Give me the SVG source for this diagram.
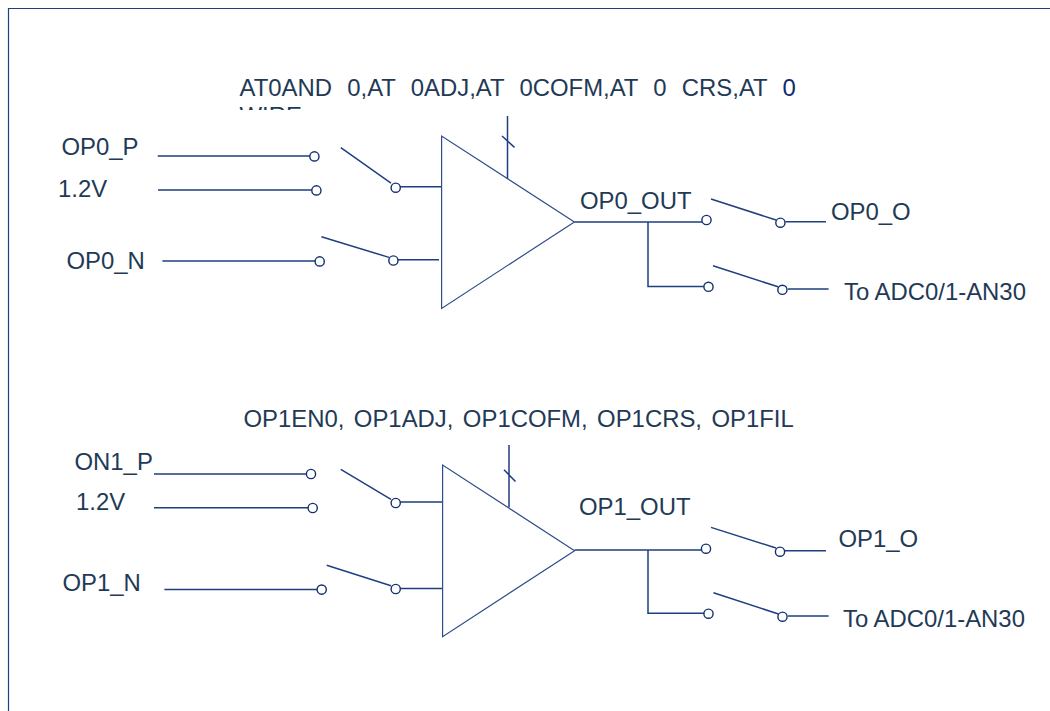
<svg xmlns="http://www.w3.org/2000/svg" width="1050" height="711" viewBox="0 0 1050 711">
<style>
text{font-family:"Liberation Sans",Arial,sans-serif;font-size:23.9px;fill:#1f3a56;white-space:pre}
.w{fill:none;stroke:#1f3f7f;stroke-width:1.5}
.t{fill:none;stroke:#2f4d8a;stroke-width:1.2}
.c{fill:#fff;stroke:#12306f;stroke-width:1.4}
</style>
<defs><clipPath id="clipWire"><rect x="230" y="70" width="600" height="40"/></clipPath></defs>
<rect width="1050" height="711" fill="#fff"/>
<path d="M8.500 711V8.500H1050" fill="none" stroke="#1f3f7f" stroke-width="1.200"/>
<g id="connectors">
<path class="w" d="M157.700 156H310M158 190H312M162.400 261H315M340.800 147.700L391 183.200M321.400 236.700L389 257.400M400 186.700H441M398 259.700H439M507.500 116V179M502 136L514.500 147.400M574.500 222H702M648 222V286.400H704M711 199L776 220M713 265.700L778 286.800M785.500 221.700H826M788 289H828.600"/>
<path class="w" d="M154 474H306.300M154 507.700H308M164.400 589.400H317M340.800 469.300L391 499.300M326.700 565.300L391 585.700M400 502H442M400 588.400H442M509 445V507.500M504 469.700L515.500 481.500M574.600 550H702M648 550V613.300H704M711 527.400L776 548M713.500 592.700L778.500 614M784.500 550.700H826M788 616H828.600"/>
</g>
<g id="amp0"><path class="t" d="M441.600 136V308.400L574.400 222Z"/></g>
<g id="amp1"><path class="t" d="M442.600 465V636.700L574.600 550.700Z"/></g>
<g id="contacts">
<circle class="c" cx="314.400" cy="156.400" r="4.600"/><circle class="c" cx="316.400" cy="190.400" r="4.600"/><circle class="c" cx="319.700" cy="261.400" r="4.600"/><circle class="c" cx="395.700" cy="187.700" r="4.600"/><circle class="c" cx="393.400" cy="260.500" r="4.600"/><circle class="c" cx="706.500" cy="220" r="4.600"/><circle class="c" cx="780.400" cy="222.700" r="4.600"/><circle class="c" cx="708.500" cy="286.800" r="4.600"/><circle class="c" cx="782.400" cy="289.800" r="4.600"/>
<circle class="c" cx="311" cy="474" r="4.600"/><circle class="c" cx="312.700" cy="508" r="4.600"/><circle class="c" cx="321.700" cy="589.600" r="4.600"/><circle class="c" cx="395.700" cy="503" r="4.600"/><circle class="c" cx="395.700" cy="589" r="4.600"/><circle class="c" cx="706" cy="548.700" r="4.600"/><circle class="c" cx="780" cy="551.700" r="4.600"/><circle class="c" cx="708.500" cy="613.700" r="4.600"/><circle class="c" cx="782.500" cy="616.700" r="4.600"/>
</g>
<g id="labels">
<text x="239.500" y="96" word-spacing="1">AT0AND  0,AT  0ADJ,AT  0COFM,AT  0  CRS,AT  <tspan fill="#0f2a6b">0</tspan></text>
<text x="239.500" y="124" clip-path="url(#clipWire)">WIRE</text>
<text x="61.500" y="155">OP0_P</text>
<text x="58" y="197">1.2V</text>
<text x="66.500" y="269">OP0_N</text>
<text x="580" y="209">OP0_OUT</text>
<text x="831" y="220">OP0_O</text>
<text x="844" y="300">To ADC0/1-AN30</text>
<text x="243.500" y="427" word-spacing="2.800">OP1EN0, OP1ADJ, OP1COFM, OP1CRS, OP1FIL</text>
<text x="74.500" y="470">ON1_P</text>
<text x="76" y="510">1.2V</text>
<text x="62.500" y="591">OP1_N</text>
<text x="579" y="515">OP1_OUT</text>
<text x="838.500" y="547">OP1_O</text>
<text x="843" y="627">To ADC0/1-AN30</text>
</g>
</svg>
